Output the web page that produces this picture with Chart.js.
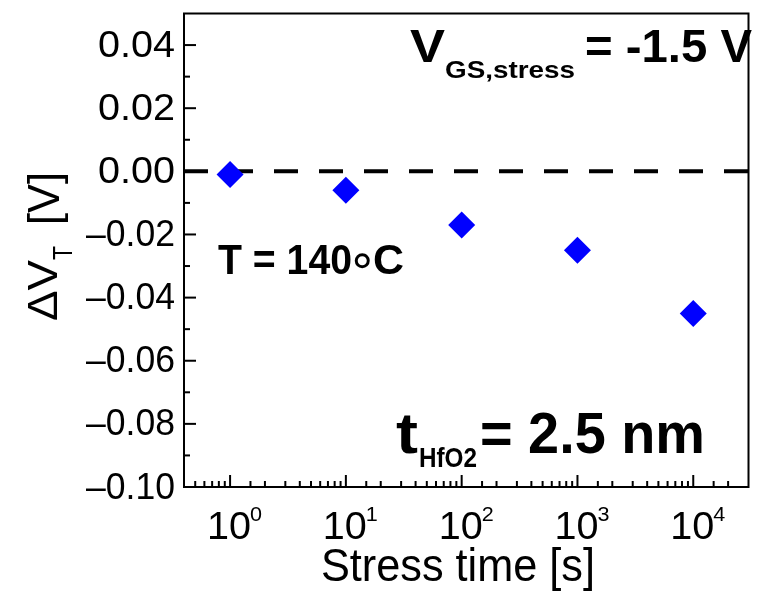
<!DOCTYPE html>
<html>
<head>
<meta charset="utf-8">
<script src="https://cdn.jsdelivr.net/npm/chart.js@4.4.1/dist/chart.umd.min.js"></script>
<style>
    body { margin: 0; background: #fff; }
    #wrap { width: 762px; height: 597px; }
</style>
</head>
<body>
<div id="wrap"><canvas id="chart"></canvas></div>
<script>
// threshold voltage shift vs stress time
const stressTime = [1, 10, 100, 1000, 10000];
const deltaVt = [-0.001, -0.006, -0.017, -0.025, -0.045];

const xRange = [0.4, 30000];
const yRange = [-0.10, 0.05];

const xTicks = [1, 10, 100, 1000, 10000];
const xTickExp = ['0', '1', '2', '3', '4'];
const yTicks = [0.04, 0.02, 0.00, -0.02, -0.04, -0.06, -0.08, -0.10];
const yTickLabels = ['0.04', '0.02', '0.00', '\u20130.02', '\u20130.04', '\u20130.06', '\u20130.08', '\u20130.10'];

const SANS = '"Liberation Sans", Arial, sans-serif';

// text squeezed/stretched to a given width
const txt = (ctx, str, font, x, y, w, align = 'left') => {
    ctx.save();
    ctx.font = font;
    ctx.textBaseline = 'alphabetic';
    ctx.textAlign = align;
    const m = ctx.measureText(str).width;
    ctx.translate(x, y);
    ctx.scale(w ? w / m : 1, 1);
    ctx.fillText(str, 0, 0);
    ctx.restore();
};

const line = (ctx, x1, y1, x2, y2) => {
    ctx.beginPath();
    ctx.moveTo(x1, y1);
    ctx.lineTo(x2, y2);
    ctx.stroke();
};

const frame = {
    id: 'frame',
    afterDraw(chart) {
        const ctx = chart.ctx;
        const { left, right, top, bottom } = chart.chartArea;
        const x = chart.scales.x;
        const y = chart.scales.y;
        ctx.save();
        ctx.strokeStyle = '#000';
        ctx.fillStyle = '#000';
        ctx.lineWidth = 2;
        ctx.strokeRect(left, top, right - left, bottom - top);

        // inward ticks
        y.ticks.forEach((t) => {
            if (t.value <= yRange[0] || t.value >= yRange[1]) return;
            const py = y.getPixelForValue(t.value);
            const major = Math.abs(t.value / 0.02 - Math.round(t.value / 0.02)) < 1e-6;
            line(ctx, left, py, left + (major ? 12 : 6), py);
        });
        x.ticks.forEach((t) => {
            if (t.value <= xRange[0] || t.value >= xRange[1]) return;
            const px = x.getPixelForValue(t.value);
            const lg = Math.log10(t.value);
            const major = Math.abs(lg - Math.round(lg)) < 1e-9;
            line(ctx, px, bottom, px, bottom - (major ? 12 : 6));
        });

        // tick labels
        yTicks.forEach((v, i) => {
            const py = y.getPixelForValue(v);
            const neg = yTickLabels[i].length > 4;
            txt(ctx, yTickLabels[i], `37px ${SANS}`, 175, py + 11.5, neg ? 89 : 77, 'right');
        });
        xTicks.forEach((v, i) => {
            const px = x.getPixelForValue(v);
            txt(ctx, '10', `38px ${SANS}`, px - 23, 539, 44);
            txt(ctx, xTickExp[i], `21px ${SANS}`, px + 20, 521, 12);
        });

        // axis titles
        txt(ctx, 'Stress time [s]', `46px ${SANS}`, 458, 581, 274, 'center');
        ctx.save();
        ctx.translate(57, 321);
        ctx.rotate(-Math.PI / 2);
        txt(ctx, '\u0394V', `42px ${SANS}`, 0, 0, 61);
        txt(ctx, 'T', `28px ${SANS}`, 61, 15, 14);
        txt(ctx, '[V]', `44px ${SANS}`, 96, 2, 53);
        ctx.restore();

        // notes
        txt(ctx, 'V', `bold 46px ${SANS}`, 410, 62, 35);
        txt(ctx, 'GS,stress', `bold 24px ${SANS}`, 445, 78, 130);
        txt(ctx, '= -1.5 V', `bold 46px ${SANS}`, 585, 62, 167);

        txt(ctx, 'T = 140', `bold 42px ${SANS}`, 218, 274, 134);
        txt(ctx, '\u2218', '48px "DejaVu Sans"', 362, 276, null, 'center');
        txt(ctx, 'C', `bold 42px ${SANS}`, 373, 274, 31);

        txt(ctx, 't', `bold 58px ${SANS}`, 396, 453, 22);
        txt(ctx, 'HfO2', `bold 28px ${SANS}`, 419, 467, 58);
        txt(ctx, '= 2.5 nm', `bold 58px ${SANS}`, 480, 453, 225);
        ctx.restore();
    },
};

new Chart(document.getElementById('chart'), {
    type: 'scatter',
    data: {
        datasets: [
            {
                data: stressTime.map((t, i) => ({ x: t, y: deltaVt[i] })),
                pointStyle: 'rectRot',
                pointRadius: 13.5,
                pointBackgroundColor: '#0000ff',
                pointBorderWidth: 0,
                order: 0,
            },
            {
                data: xRange.map((x) => ({ x, y: 0 })),
                showLine: true,
                borderColor: '#000',
                borderWidth: 4,
                borderDash: [24, 21],
                pointRadius: 0,
                order: 1,
            },
        ],
    },
    options: {
        responsive: true,
        maintainAspectRatio: false,
        animation: false,
        layout: { padding: { top: 7, right: 5, left: 0, bottom: 0 } },
        plugins: { legend: { display: false }, tooltip: { enabled: false } },
        scales: {
            x: {
                type: 'logarithmic',
                min: xRange[0],
                max: xRange[1],
                grid: { display: false },
                border: { display: false },
                ticks: { display: false },
                afterFit: (s) => { s.height = 110; },
            },
            y: {
                min: yRange[0],
                max: yRange[1],
                grid: { display: false },
                border: { display: false },
                ticks: { display: false, stepSize: 0.01 },
                afterFit: (s) => { s.width = 184; },
            },
        },
    },
    plugins: [frame],
});
</script>
</body>
</html>
